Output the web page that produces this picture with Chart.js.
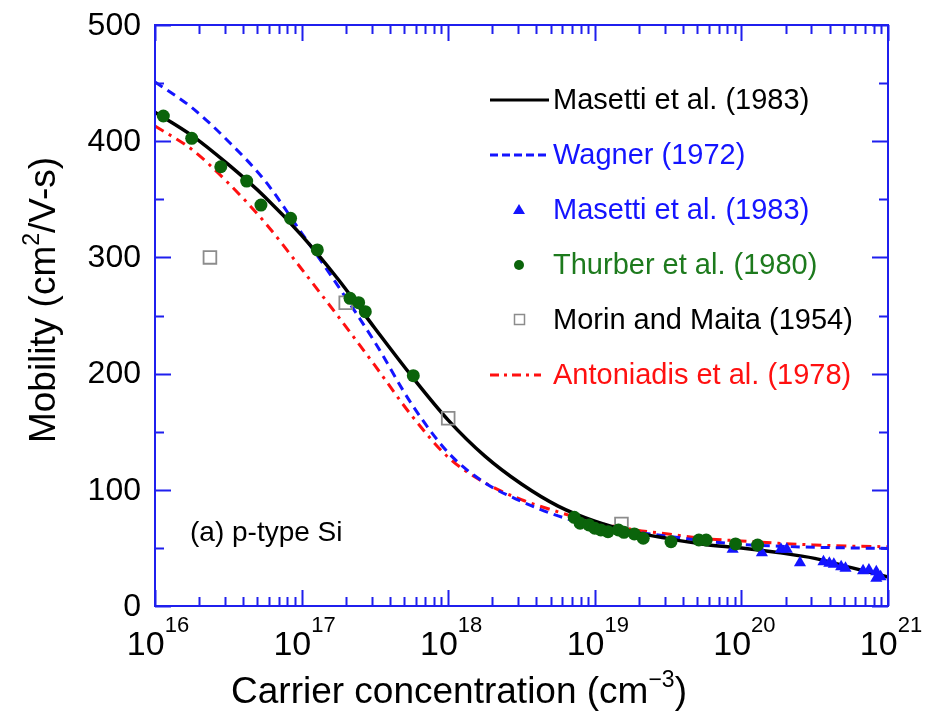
<!DOCTYPE html>
<html>
<head>
<meta charset="utf-8">
<script src="https://cdn.jsdelivr.net/npm/chart.js@4.4.1/dist/chart.umd.min.js"></script>
<style>
  html, body { margin: 0; padding: 0; background: #fff; }
</style>
</head>
<body>
<canvas id="mobility" width="927" height="727"></canvas>
<script>
// carrier concentration grid (cm^-3) used by the three model curves
const curveConc = [1e16, 1.78e16, 3.16e16, 5.62e16, 1e17, 1.78e17, 3.16e17, 5.62e17,
  1e18, 1.78e18, 3.16e18, 5.62e18, 1e19, 1.78e19, 3.16e19, 5.62e19,
  1e20, 1.78e20, 3.16e20, 5.62e20, 1e21];
const masettiCurve = [425, 405, 380, 352, 319, 281, 239, 198, 160, 129, 105, 86,
  73, 64, 58, 53, 50, 46, 41, 33, 25];
const wagnerCurve = [451, 429, 400, 366, 321, 275, 227, 174, 132, 106, 90, 77.5,
  69, 64, 60, 56, 53, 51.5, 50.5, 50, 49.5];
const antoniadisCurve = [413, 393, 364, 330, 290, 249, 207, 164, 128, 106, 91.5, 81,
  72, 66, 62, 58, 56, 54, 52.5, 51.5, 51];

// measured points
const masettiConc = [8.71e19, 1.38e20, 1.86e20, 2.04e20, 2.51e20, 3.63e20, 3.98e20, 4.27e20,
  4.79e20, 5.13e20, 6.76e20, 7.41e20, 8.32e20, 8.32e20, 8.91e20];
const masettiMob = [48.8, 45.9, 48.8, 48.8, 37.3, 38.1, 36.7, 35.9, 33.8, 32.4, 30.4, 31, 29.5, 23.8, 25.2];

const thurberConc = [1.14e16, 1.78e16, 2.81e16, 4.22e16, 5.28e16, 8.41e16, 1.28e17, 2.14e17,
  2.45e17, 2.72e17, 5.78e17, 7.24e18, 7.94e18, 9.12e18, 1.0e19, 1.10e19, 1.23e19, 1.45e19,
  1.58e19, 1.86e19, 2.14e19, 3.31e19, 5.13e19, 5.75e19, 9.12e19, 1.29e20];
const thurberMob = [421.7, 402.5, 378, 365.7, 345, 333.6, 306.4, 264.8, 261, 253.3, 198.2,
  76.3, 71.2, 69.7, 66.9, 65.4, 64, 65.4, 63.4, 62, 58.3, 55.3, 56.8, 56.8, 53.4, 52.5];

const morinConc = [2.37e16, 2.0e17, 1.0e18, 1.52e19];
const morinMob = [300, 261, 161.5, 70.6];

// axis ticks
const xExponents = [16, 17, 18, 19, 20, 21];
const yTicks = [0, 100, 200, 300, 400, 500];

const axisBlue = '#1f1fee';
const lineBlue = '#1414ff';
const lineRed = '#ff1010';
const dotGreen = '#0b640b';
const textGreen = '#1d7a1d';
const squareGray = '#8c8c8c';
const FONT = '"Liberation Sans", Arial, Helvetica, sans-serif';

function pairs(xs, ys) {
  return xs.map((v, i) => ({ x: v, y: ys[i] }));
}

// text made of pieces with different fonts / vertical shifts
function drawRich(ctx, parts, x, y, align) {
  let total = 0;
  parts.forEach(p => { ctx.font = p.font; p.w = ctx.measureText(p.t).width; total += p.w; });
  let cx = align === 'center' ? x - total / 2 : x;
  ctx.textAlign = 'left';
  ctx.textBaseline = 'alphabetic';
  parts.forEach(p => {
    ctx.font = p.font;
    ctx.fillText(p.t, cx, y + (p.dy || 0));
    cx += p.w;
  });
}

const axesPlugin = {
  id: 'axesPlugin',
  afterDraw(chart) {
    const { ctx, chartArea: a, scales: { x, y } } = chart;
    ctx.save();
    ctx.strokeStyle = axisBlue;
    ctx.lineWidth = 2;
    ctx.beginPath();
    // x ticks (decades + minor), inward on bottom and top
    for (let d = 16; d <= 21; d++) {
      for (let m = 1; m <= 9; m++) {
        const v = m * Math.pow(10, d);
        if (v > 1e21) break;
        const px = Math.round(x.getPixelForValue(v)) + 0.5;
        const len = m === 1 ? 16 : 9;
        ctx.moveTo(px, a.bottom); ctx.lineTo(px, a.bottom - len);
        ctx.moveTo(px, a.top); ctx.lineTo(px, a.top + len);
      }
    }
    // y ticks, inward on left and right
    for (let v = 0; v <= 500; v += 50) {
      const py = Math.round(y.getPixelForValue(v)) + 0.5;
      const len = v % 100 === 0 ? 16 : 9;
      ctx.moveTo(a.left, py); ctx.lineTo(a.left + len, py);
      ctx.moveTo(a.right, py); ctx.lineTo(a.right - len, py);
    }
    ctx.stroke();
    ctx.strokeRect(a.left, a.top, a.right - a.left, a.bottom - a.top);

    ctx.fillStyle = '#000';
    // y tick labels
    ctx.font = '32px ' + FONT;
    ctx.textAlign = 'right';
    ctx.textBaseline = 'middle';
    yTicks.forEach(v => ctx.fillText(String(v), 141, y.getPixelForValue(v) + 1));
    // x tick labels 10^n
    xExponents.forEach(e => {
      drawRich(ctx, [
        { t: '10', font: '34px ' + FONT },
        { t: String(e), font: '22px ' + FONT, dy: -23 }
      ], x.getPixelForValue(Math.pow(10, e)) + 3, 655, 'center');
    });
    // axis titles
    drawRich(ctx, [
      { t: 'Carrier concentration (cm', font: '37px ' + FONT },
      { t: '\u22123', font: '23px ' + FONT, dy: -16 },
      { t: ')', font: '37px ' + FONT }
    ], 459, 703, 'center');
    ctx.save();
    ctx.translate(55, 300);
    ctx.rotate(-Math.PI / 2);
    drawRich(ctx, [
      { t: 'Mobility (cm', font: '37px ' + FONT },
      { t: '2', font: '23px ' + FONT, dy: -16 },
      { t: '/V-s)', font: '37px ' + FONT }
    ], 0, 0, 'center');
    ctx.restore();

    // annotation
    ctx.font = '28px ' + FONT;
    ctx.textAlign = 'left';
    ctx.textBaseline = 'middle';
    ctx.fillText('(a) p-type Si', 190, 533);

    // legend
    const rows = [
      { label: 'Masetti et al. (1983)', color: '#000', kind: 'solid' },
      { label: 'Wagner (1972)', color: lineBlue, kind: 'dash' },
      { label: 'Masetti et al. (1983)', color: lineBlue, kind: 'triangle' },
      { label: 'Thurber et al. (1980)', color: textGreen, kind: 'dot' },
      { label: 'Morin and Maita (1954)', color: '#000', kind: 'square' },
      { label: 'Antoniadis et al. (1978)', color: lineRed, kind: 'dashdot' }
    ];
    rows.forEach((r, i) => {
      const ly = 100 + i * 55;
      ctx.lineWidth = 3;
      ctx.setLineDash([]);
      if (r.kind === 'solid' || r.kind === 'dash' || r.kind === 'dashdot') {
        ctx.strokeStyle = r.kind === 'solid' ? '#000' : r.color;
        if (r.kind === 'dash') ctx.setLineDash([8, 4]);
        if (r.kind === 'dashdot') ctx.setLineDash([9, 5, 3, 5]);
        ctx.beginPath();
        ctx.moveTo(490, ly);
        ctx.lineTo(r.kind === 'dashdot' ? 541 : 549, ly);
        ctx.stroke();
        ctx.setLineDash([]);
      } else if (r.kind === 'triangle') {
        ctx.fillStyle = lineBlue;
        ctx.beginPath();
        ctx.moveTo(519, ly - 6); ctx.lineTo(525, ly + 4); ctx.lineTo(513, ly + 4);
        ctx.closePath(); ctx.fill();
      } else if (r.kind === 'dot') {
        ctx.fillStyle = dotGreen;
        ctx.beginPath(); ctx.arc(519, ly, 5, 0, Math.PI * 2); ctx.fill();
      } else if (r.kind === 'square') {
        ctx.strokeStyle = squareGray; ctx.lineWidth = 1.5;
        ctx.strokeRect(514.5, ly - 5.5, 10, 10);
      }
      ctx.fillStyle = r.color;
      ctx.font = '29px ' + FONT;
      ctx.textAlign = 'left';
      ctx.textBaseline = 'middle';
      ctx.fillText(r.label, 553, ly + 1);
    });
    ctx.restore();
  }
};

new Chart(document.getElementById('mobility'), {
  type: 'scatter',
  data: {
    datasets: [
      {
        label: 'Thurber et al. (1980)',
        data: pairs(thurberConc, thurberMob),
        pointStyle: 'circle', pointRadius: 6.5,
        backgroundColor: dotGreen, borderColor: dotGreen, borderWidth: 0
      },
      {
        label: 'Masetti et al. (1983) data',
        data: pairs(masettiConc, masettiMob),
        pointStyle: 'triangle', pointRadius: 7,
        backgroundColor: lineBlue, borderColor: lineBlue, borderWidth: 0
      },
      {
        label: 'Morin and Maita (1954)',
        data: pairs(morinConc, morinMob),
        pointStyle: 'rect', pointRadius: 9,
        backgroundColor: 'rgba(255,255,255,0)', borderColor: squareGray, borderWidth: 1.8
      },
      {
        label: 'Masetti et al. (1983)',
        type: 'line',
        data: pairs(curveConc, masettiCurve),
        borderColor: '#000', borderWidth: 3.5, pointRadius: 0,
        cubicInterpolationMode: 'monotone', fill: false
      },
      {
        label: 'Wagner (1972)',
        type: 'line',
        data: pairs(curveConc, wagnerCurve),
        borderColor: lineBlue, borderWidth: 3, borderDash: [9, 6], pointRadius: 0,
        cubicInterpolationMode: 'monotone', fill: false
      },
      {
        label: 'Antoniadis et al. (1978)',
        type: 'line',
        data: pairs(curveConc, antoniadisCurve),
        borderColor: lineRed, borderWidth: 3, borderDash: [10, 6, 3, 6], pointRadius: 0,
        cubicInterpolationMode: 'monotone', fill: false
      }
    ]
  },
  options: {
    responsive: false,
    animation: false,
    devicePixelRatio: 1,
    layout: { padding: { left: 155, right: 39, top: 25, bottom: 121 } },
    plugins: { legend: { display: false }, tooltip: { enabled: false } },
    scales: {
      x: { type: 'logarithmic', min: 1e16, max: 1e21, display: false },
      y: { type: 'linear', min: 0, max: 500, display: false }
    }
  },
  plugins: [axesPlugin]
});
</script>
</body>
</html>
